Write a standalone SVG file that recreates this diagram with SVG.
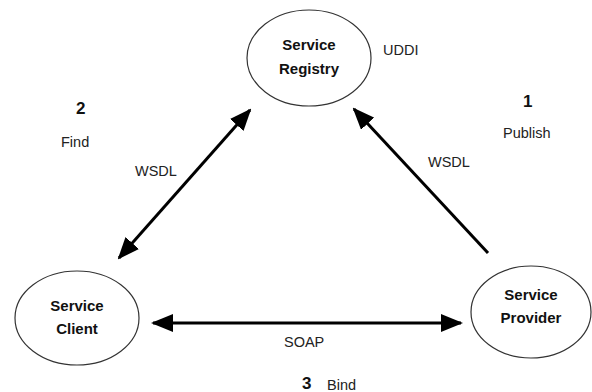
<svg xmlns="http://www.w3.org/2000/svg" width="592" height="392" viewBox="0 0 592 392">
<style>
.node ellipse{fill:#fff;stroke:#333;stroke-width:1.2}
.nt{font-family:"Liberation Sans",Arial,sans-serif;font-weight:bold;font-size:15px;fill:#111;text-anchor:middle}
.lbl{font-family:"Liberation Sans",Arial,sans-serif;font-size:14.5px;fill:#222}
.num{font-family:"Liberation Sans",Arial,sans-serif;font-weight:bold;font-size:17px;fill:#111}
.conn line{stroke:#000;stroke-width:3}
</style>
<defs>
<marker id="ah" markerUnits="userSpaceOnUse" markerWidth="22" markerHeight="18" refX="20" refY="9" orient="auto-start-reverse">
<path d="M0,0 L22,9 L0,18 Z" fill="#000"/>
</marker>
</defs>
<rect width="592" height="392" fill="#fff"/>
<g id="registry" class="node">
<ellipse cx="309" cy="58" rx="62" ry="48"/>
<text class="nt" x="309" y="50">Service</text>
<text class="nt" x="309" y="74">Registry</text>
</g>
<g id="client" class="node">
<ellipse cx="77" cy="318" rx="62" ry="47"/>
<text class="nt" x="77" y="311">Service</text>
<text class="nt" x="77" y="334">Client</text>
</g>
<g id="provider" class="node">
<ellipse cx="531" cy="312" rx="60" ry="46"/>
<text class="nt" x="531" y="300">Service</text>
<text class="nt" x="531" y="323">Provider</text>
</g>
<g class="conn">
<line x1="250" y1="110" x2="119" y2="258" marker-start="url(#ah)" marker-end="url(#ah)"/>
<line x1="488" y1="253" x2="354" y2="109" marker-end="url(#ah)"/>
<line x1="153" y1="323" x2="461" y2="323" marker-start="url(#ah)" marker-end="url(#ah)"/>
</g>
<g id="labels">
<text class="lbl" x="383" y="55">UDDI</text>
<text class="num" x="76" y="114">2</text>
<text class="lbl" x="61" y="147">Find</text>
<text class="lbl" x="135" y="176">WSDL</text>
<text class="num" x="523" y="107">1</text>
<text class="lbl" x="503" y="138">Publish</text>
<text class="lbl" x="428" y="167">WSDL</text>
<text class="lbl" x="284" y="347">SOAP</text>
<text class="num" x="302" y="389">3</text>
<text class="lbl" x="327" y="390">Bind</text>
</g>
</svg>
